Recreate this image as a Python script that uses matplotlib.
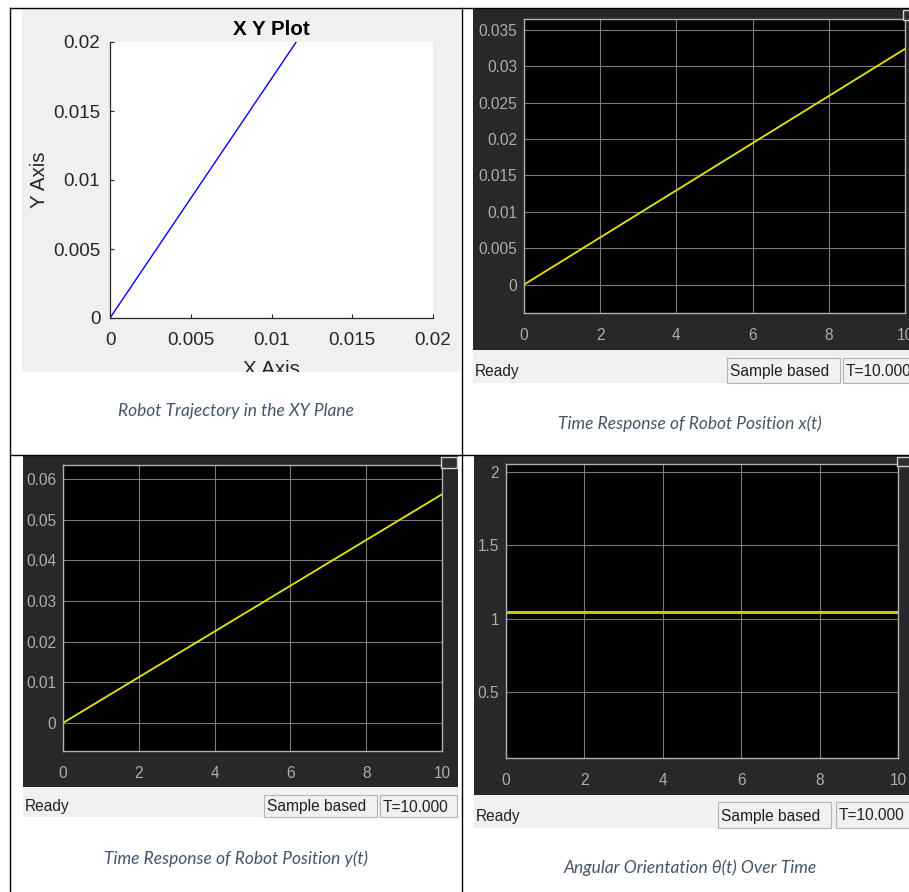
import numpy as np
import matplotlib
matplotlib.use("Agg")
import matplotlib.pyplot as plt
from matplotlib.patches import Rectangle
from matplotlib.ticker import FormatStrFormatter

# Simulation results
t = [0, 10]
x_pos = [0, 0.0324]
y_pos = [0, 0.0562]
theta = [1.047, 1.047]

xy_ticks = [0, 0.005, 0.01, 0.015, 0.02]
t_ticks = [0, 2, 4, 6, 8, 10]
x_ticks = [0, 0.005, 0.01, 0.015, 0.02, 0.025, 0.03, 0.035]
y_ticks = [0, 0.01, 0.02, 0.03, 0.04, 0.05, 0.06]
th_ticks = [0.5, 1, 1.5, 2]

captions = ["Robot Trajectory in the XY Plane",
            "Time Response of Robot Position x(t)",
            "Time Response of Robot Position y(t)",
            "Angular Orientation \u03b8(t) Over Time"]

W, H = 909, 892
fig = plt.figure(figsize=(W / 100, H / 100), dpi=100)
fig.patch.set_facecolor("white")


def box(x0, y0, x1, y1):
    return [x0 / W, 1 - y1 / H, (x1 - x0) / W, (y1 - y0) / H]


# background layer in pixel coordinates
bg = fig.add_axes([0, 0, 1, 1], zorder=-1)
bg.set_xlim(0, W)
bg.set_ylim(H, 0)
bg.axis("off")

# top layer for table lines and small icons
top = fig.add_axes([0, 0, 1, 1], zorder=10)
top.set_xlim(0, W)
top.set_ylim(H, 0)
top.axis("off")

SANS = "Liberation Sans"
scope_bg = "#282828"
bar_bg = "#f0f0f0"

# --- panel 1: MATLAB XY plot ---
bg.add_patch(Rectangle((22, 9), 438, 363, facecolor=bar_bg, edgecolor="none"))
ax1 = fig.add_axes(box(110, 42, 433, 318))
ax1.plot(x_pos, y_pos, color="#0000ff", lw=1.0)
ax1.set_xlim(0, 0.02)
ax1.set_ylim(0, 0.02)
ax1.set_xticks(xy_ticks)
ax1.set_yticks(xy_ticks)
ax1.xaxis.set_major_formatter(FormatStrFormatter("%g"))
ax1.yaxis.set_major_formatter(FormatStrFormatter("%g"))
for s in ["top", "right"]:
    ax1.spines[s].set_visible(False)
for s in ["left", "bottom"]:
    ax1.spines[s].set_color("#262626")
    ax1.spines[s].set_linewidth(0.9)
ax1.tick_params(direction="in", length=3, color="#262626", labelcolor="#262626",
                labelsize=13.5, width=0.8)
ax1.tick_params(axis="x", pad=10)
ax1.tick_params(axis="y", pad=7)
for lab in ax1.get_xticklabels() + ax1.get_yticklabels():
    lab.set_family(SANS)
ax1.set_title("X Y Plot", fontsize=14.8, fontweight="bold", family=SANS, pad=5)
ax1.set_xlabel("X Axis", fontsize=14.8, family=SANS, labelpad=8, color="#262626")
ax1.set_ylabel("Y Axis", fontsize=14.8, family=SANS, labelpad=3, color="#262626")
top.add_patch(Rectangle((20, 372), 441, 10, facecolor="white", edgecolor="none"))


# --- scope panels ---
def scope(frame, axbox, bar, series, ylim, yticks, lw, color):
    fx0, fy0, fx1, fy1 = frame
    bg.add_patch(Rectangle((fx0, fy0), fx1 - fx0, fy1 - fy0,
                           facecolor=scope_bg, edgecolor="none"))
    by1, sx0, sx1, tx0, tx1, sy0 = bar
    bg.add_patch(Rectangle((fx0, fy1), fx1 - fx0, by1 - fy1,
                           facecolor=bar_bg, edgecolor="none"))
    bg.add_patch(Rectangle((sx0, sy0), sx1 - sx0, by1 - sy0,
                           facecolor=bar_bg, edgecolor="#b4b4b4", lw=0.8))
    bg.add_patch(Rectangle((tx0, sy0), tx1 - tx0, by1 - sy0,
                           facecolor=bar_bg, edgecolor="#b4b4b4", lw=0.8))
    ym = (sy0 + by1) / 2 + 1
    bg.text(fx0 + 2, ym, "Ready", fontsize=11.2, family=SANS, va="center",
            color="#202020")
    bg.text(sx0 + 3, ym, "Sample based", fontsize=11.2, family=SANS,
            va="center", color="#202020")
    bg.text(tx0 + 3, ym, "T=10.000", fontsize=11.2, family=SANS,
            va="center", color="#202020")

    ax = fig.add_axes(box(*axbox))
    ax.set_facecolor("black")
    ax.plot(t, series, color=color, lw=lw)
    ax.set_xlim(0, 10)
    ax.set_ylim(*ylim)
    ax.set_xticks(t_ticks)
    ax.set_yticks(yticks)
    ax.yaxis.set_major_formatter(FormatStrFormatter("%g"))
    ax.grid(color="#7a7a7a", lw=0.8)
    ax.set_axisbelow(True)
    for s in ax.spines.values():
        s.set_color("#b0b0b0")
        s.set_linewidth(1.0)
    ax.tick_params(length=0, labelcolor="#adadad", labelsize=11.2)
    ax.tick_params(axis="x", pad=11)
    ax.tick_params(axis="y", pad=5)
    for lab in ax.get_xticklabels() + ax.get_yticklabels():
        lab.set_family(SANS)
    return ax


ax2 = scope((473, 9, 909, 350), (524, 19, 905, 313),
            (383, 727, 840, 843, 915, 358),
            x_pos, (-0.0039, 0.0365), x_ticks, 1.3, "#e6e600")
ax3 = scope((23, 456, 458, 787), (63, 465, 442, 751),
            (817, 264, 377, 380, 457, 795),
            y_pos, (-0.0069, 0.0634), y_ticks, 1.3, "#e6e600")
ax4 = scope((474, 456, 909, 795), (506, 464, 898, 758),
            (828, 718, 831, 836, 915, 802),
            theta, (0.05, 2.055), th_ticks, 2.2, "#c8c800")

# small window icons in the scope corners
for (ix, iy, iw, ih) in [(903, 10, 10, 10), (441, 457, 16, 11), (897, 457, 14, 9)]:
    top.add_patch(Rectangle((ix, iy), iw, ih, facecolor="#303030",
                            edgecolor="#d0d0d0", lw=1.0))

# table grid lines
tl = dict(color="black", lw=1.0)
top.plot([10, 10], [8, H], **tl)
top.plot([10, W], [8, 8], **tl)
top.plot([461.5, 461.5], [8, H], **tl)
top.plot([10, W], [455, 455], **tl)

# captions
cap_kw = dict(fontsize=12.5, family="Lato", style="italic", color="#44546a",
              ha="center", va="center")
bg.text(236, 411, captions[0], **cap_kw)
bg.text(690, 424, captions[1], **cap_kw)
bg.text(236, 859, captions[2], **cap_kw)
bg.text(690, 868, captions[3], **cap_kw)

fig.savefig("out.png", dpi=100)
